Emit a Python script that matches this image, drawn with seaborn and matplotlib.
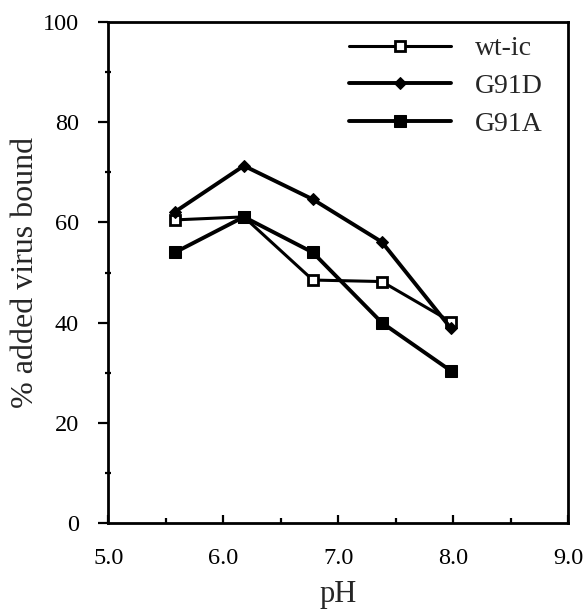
import matplotlib
matplotlib.use('Agg')
import matplotlib.pyplot as plt
import seaborn as sns
import pandas as pd
from matplotlib.ticker import MultipleLocator, FormatStrFormatter

# pH values
ph = [5.58, 6.18, 6.78, 7.38, 7.98]

# % added virus bound per strain
wt_ic = [60.5, 61.1, 48.5, 48.2, 40.2]
g91d = [62.1, 71.3, 64.6, 56.1, 38.9]
g91a = [54.0, 61.1, 54.0, 40.0, 30.4]

series_names = ['wt-ic', 'G91D', 'G91A']

df = pd.DataFrame({
    'pH': ph * 3,
    'bound': wt_ic + g91d + g91a,
    'strain': [n for n in series_names for _ in ph],
})

sns.set_style('ticks')
plt.rcParams['font.family'] = ['Liberation Serif', 'DejaVu Serif']

fig = plt.figure(figsize=(5.85, 6.09), dpi=100)
ax = fig.add_axes([0.185, 0.141, 0.786, 0.823])

styles = {
    'wt-ic': dict(marker='s', markersize=7, markerfacecolor='white',
                  markeredgecolor='black', markeredgewidth=2.0, linewidth=2.2),
    'G91D': dict(marker='D', markersize=6, markerfacecolor='black',
                 markeredgecolor='black', linewidth=2.8),
    'G91A': dict(marker='s', markersize=8, markerfacecolor='black',
                 markeredgecolor='black', linewidth=2.8),
}

for name in series_names:
    sub = df[df['strain'] == name]
    sns.lineplot(data=sub, x='pH', y='bound', ax=ax, color='black',
                 label=name, **styles[name])

ax.set_xlim(5.0, 9.0)
ax.set_ylim(0, 100)
ax.xaxis.set_major_locator(MultipleLocator(1.0))
ax.xaxis.set_minor_locator(MultipleLocator(0.5))
ax.yaxis.set_major_locator(MultipleLocator(20))
ax.yaxis.set_minor_locator(MultipleLocator(10))
ax.xaxis.set_major_formatter(FormatStrFormatter('%.1f'))

ax.tick_params(which='both', top=False, right=False, width=1.6,
               labelsize=17.5, colors='black')
ax.tick_params(axis='x', which='major', direction='in', length=6, pad=18)
ax.tick_params(axis='x', which='minor', direction='in', length=3.5)
ax.tick_params(axis='y', which='major', direction='out', length=7, pad=14)
ax.tick_params(axis='y', which='minor', direction='inout', length=4)
for s in ax.spines.values():
    s.set_linewidth(2.0)
    s.set_color('black')

ax.set_xlabel('pH', fontsize=22, labelpad=8)
ax.set_ylabel('% added virus bound', fontsize=23, labelpad=2)

ax.legend(loc='upper left', bbox_to_anchor=(0.524, 0.972), frameon=False,
          fontsize=20, handlelength=3.67, handletextpad=0.86,
          labelspacing=0.44, borderpad=0, borderaxespad=0)

fig.savefig('out.png', dpi=100)
